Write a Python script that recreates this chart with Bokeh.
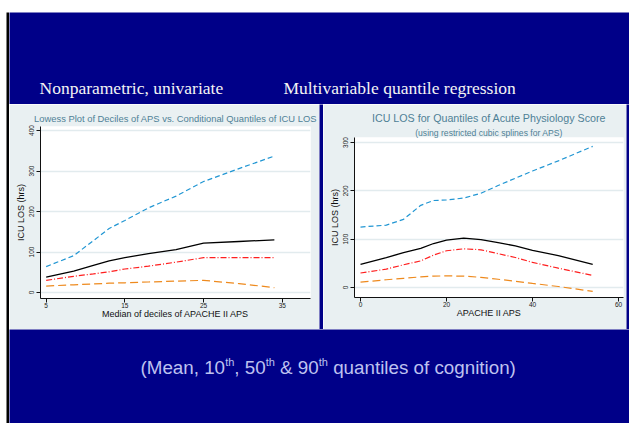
from bokeh.plotting import figure
from bokeh.layouts import row, column
from bokeh.models import Range1d, Label, FixedTicker, Title
from bokeh.embed import file_html
from bokeh.resources import INLINE
from bokeh.core.validation import silence
from bokeh.core.validation.warnings import MISSING_RENDERERS

silence(MISSING_RENDERERS, True)

# ---------------- data ----------------
# Left: lowess of deciles of APS vs conditional quantiles of ICU LOS
left_x = [5, 8.5, 11, 13, 15, 18, 21.5, 25, 29.5, 34]
left_q90 = [64, 91, 128, 158, 178, 209, 238, 274, 306, 337]
left_mean = [38, 53, 67, 78, 86, 96, 106, 122, 126, 130]
left_q50 = [30, 40, 46, 51, 58, 65, 75, 86, 86, 86]
left_q10 = [16, 19, 21, 23, 24, 26, 28, 30, 22, 12]
left_xticks = [5, 15, 25, 35]
left_yticks = [0, 100, 200, 300, 400]

# Right: quantile regression with restricted cubic splines
right_x = [0, 6, 10, 14, 17, 20, 24, 28, 32, 36, 40, 46, 54]
right_q90 = [125, 129, 141, 170, 180, 181, 185, 195, 211, 226, 241, 262, 292]
right_mean = [48, 62, 72, 81, 91, 98, 102, 99, 93, 86, 77, 66, 48]
right_q50 = [30, 38, 47, 55, 67, 76, 80, 78, 70, 62, 52, 40, 25]
right_q10 = [11, 16, 19, 22, 23.5, 24, 23.5, 21, 17, 13, 8.5, 2, -8]
right_xticks = [0, 20, 40, 60]
right_yticks = [0, 100, 200, 300]

heading_left = "Nonparametric, univariate"
heading_right = "Multivariable quantile regression"
left_title = "Lowess Plot of Deciles of APS vs. Conditional Quantiles of ICU LOS"
right_title = "ICU LOS for Quantiles of Acute Physiology Score"
right_subtitle = "(using restricted cubic splines for APS)"
left_xlabel = "Median of deciles of APACHE II APS"
right_xlabel = "APACHE II APS"
ylabel = "ICU LOS (hrs)"

# ---------------- style ----------------
NAVY = "#000088"
PANEL = "#E9F0F2"
GRID = "#E2EBEE"
TITLE_C = "#4F8196"
BLUE = "#2196D3"
RED = "#FF1F1F"
ORANGE = "#EE8A1E"
SANS = "Liberation Sans"
SERIF = "Liberation Serif"


def blank(w, h, color):
    f = figure(width=w, height=h, toolbar_location=None, output_backend="svg",
               title=None, min_border=0, x_axis_location=None, y_axis_location=None,
               background_fill_color=color, border_fill_color=color,
               outline_line_color=None, x_range=Range1d(0, w), y_range=Range1d(0, h))
    f.xgrid.visible = False
    f.ygrid.visible = False
    return f


def chart(w, h, lb, rb, tb, bb, xr, yr, xticks, yticks, xlabel):
    p = figure(width=w, height=h, toolbar_location=None, output_backend="svg",
               title=None, x_range=Range1d(*xr), y_range=Range1d(*yr),
               min_border_left=lb, min_border_right=rb,
               min_border_top=tb, min_border_bottom=bb,
               background_fill_color="white", border_fill_color=PANEL,
               outline_line_color=None)
    p.xaxis.ticker = FixedTicker(ticks=xticks)
    p.yaxis.ticker = FixedTicker(ticks=yticks)
    p.ygrid.ticker = FixedTicker(ticks=yticks)
    p.xgrid.visible = False
    p.ygrid.grid_line_color = GRID
    p.ygrid.grid_line_width = 1.3
    p.axis.axis_line_color = "#111111"
    p.axis.axis_line_width = 1
    p.axis.major_tick_line_color = "#111111"
    p.axis.major_tick_out = 4
    p.axis.major_tick_in = 0
    p.axis.minor_tick_line_color = None
    p.axis.major_label_text_font = SANS
    p.axis.major_label_text_font_size = "6.5px"
    p.axis.major_label_text_color = "#222222"
    p.axis.axis_label_text_font = SANS
    p.axis.axis_label_text_font_size = "9px"
    p.axis.axis_label_text_font_style = "normal"
    p.axis.axis_label_text_color = "#111111"
    p.axis.major_label_standoff = 2
    p.axis.axis_label_standoff = 1
    p.xaxis.major_label_standoff = 0
    p.xaxis.axis_label_standoff = -2
    p.yaxis.major_label_orientation = "vertical"
    p.xaxis.axis_label = xlabel
    p.yaxis.axis_label = ylabel
    return p


def add_title(p, text, size, standoff):
    p.add_layout(Title(text=text, align="center", text_font=SANS, text_font_size=size,
                       text_color=TITLE_C, text_font_style="normal",
                       standoff=standoff), "above")


def add_lines(p, x, q90, mean, q50, q10):
    p.line(x, q90, line_color=BLUE, line_width=1.2, line_dash="5 3")
    p.line(x, mean, line_color="black", line_width=1.3)
    p.line(x, q50, line_color=RED, line_width=1.2, line_dash="6 2 1 2")
    p.line(x, q10, line_color=ORANGE, line_width=1.2, line_dash="8 4")


def lab(p, x, y, text, size, color, font, align="center", baseline="middle"):
    p.add_layout(Label(x=x, y=y, x_units="screen", y_units="screen", text=text,
                       text_font=font, text_font_size=size, text_color=color,
                       text_align=align, text_baseline=baseline))


# ---- left chart ----
pl = chart(310, 225, 31, 9, 22, 31, (4.28, 38.59), (-14.8, 409.9),
           left_xticks, left_yticks, left_xlabel)
add_lines(pl, left_x, left_q90, left_mean, left_q50, left_q10)
add_title(pl, left_title, "9.4px", 6)

# ---- right chart ----
pr = chart(303, 225, 31, 3, 33, 32, (-1.4, 61.16), (-20.7, 310.3),
           right_xticks, right_yticks, right_xlabel)
add_lines(pr, right_x, right_q90, right_mean, right_q50, right_q10)
add_title(pr, right_subtitle, "8.6px", 0)
add_title(pr, right_title, "10.7px", 3)

# ---- slide pieces ----
top = blank(620, 92, NAVY)
lab(top, 30, 17, heading_left, "17.5px", "#F4F4F4", SERIF, align="left")
lab(top, 274, 17, heading_right, "17.5px", "#F4F4F4", SERIF, align="left")

bot = blank(620, 94, NAVY)
AW = {"(": 333, ")": 333, "M": 833, "e": 556, "a": 556, "n": 556, ",": 278, " ": 278,
      "1": 556, "0": 556, "t": 278, "h": 556, "5": 556, "&": 667, "9": 556, "q": 556,
      "u": 556, "i": 222, "l": 222, "s": 500, "o": 556, "f": 278, "c": 500, "g": 556}


def tw(s, size):
    return sum(AW.get(c, 556) for c in s) * size / 1000.0


pieces = [("(Mean, 10", False), ("th", True), (", 50", False), ("th", True),
          (" & 90", False), ("th", True), (" quantiles of cognition)", False)]
BIG, SMALL = 18.8, 11.0
cx = 131.0
mid_y = 56
for txt, sup in pieces:
    size = SMALL if sup else BIG
    lead = len(txt) - len(txt.lstrip(" "))
    shown = txt.strip(" ")
    x0 = cx + tw(" " * lead, size)
    lab(bot, x0, mid_y + (6 if sup else 0), shown, f"{size}px", "#BEC2F0", SANS,
        align="left")
    cx += tw(txt, size)

top_bar = blank(623, 3, "black")
left_bar = blank(3, 411, "black")
gap1 = blank(4, 225, NAVY)
gap2 = blank(3, 225, NAVY)

mid = row(column(pl), gap1, column(pr), gap2)
inner = column(top, mid, bot)
layout = column(top_bar, row(left_bar, inner))
layout.styles = {"position": "absolute", "left": "6px", "top": "9px"}

open("out.html", "w").write(file_html(layout, INLINE))
